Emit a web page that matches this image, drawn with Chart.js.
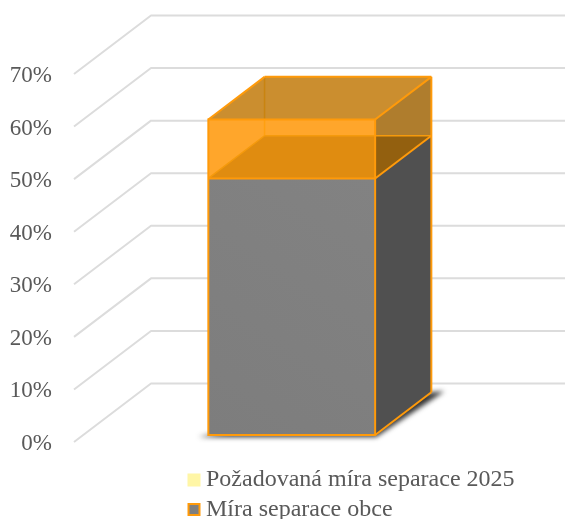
<!DOCTYPE html>
<html><head><meta charset="utf-8">
<style>html,body{margin:0;padding:0;background:#fff}canvas{display:block}</style>
<script src="https://cdn.jsdelivr.net/npm/chart.js@4"></script>
</head><body><canvas id="c" width="565" height="519"></canvas>
<script>
const categories = ["Obec"];
const targetName = "Požadovaná míra separace 2025";
const actualName = "Míra separace obce";
const targetValues = [60];
const actualValues = [48.8];
const yTicks = [0,10,20,30,40,50,60,70];

const DX = 77, DY = 58.5, D_FRONT = 0.12, D_BACK = 0.85;
const ORANGE = "#ff9a0a";
const LEGEND_PAD = 5.5;

function poly(ctx, pts, fill, stroke, lw){
  ctx.beginPath();
  pts.forEach((p,i)=> i?ctx.lineTo(p[0],p[1]):ctx.moveTo(p[0],p[1]));
  ctx.closePath();
  if(fill){ctx.fillStyle=fill;ctx.fill();}
  if(stroke){ctx.strokeStyle=stroke;ctx.lineWidth=lw||2;ctx.lineJoin="miter";ctx.stroke();}
}
function seg(ctx,a,b,c,lw){
  ctx.beginPath();ctx.moveTo(a[0],a[1]);ctx.lineTo(b[0],b[1]);
  ctx.strokeStyle=c;ctx.lineWidth=lw||2;ctx.stroke();
}
const plugin3d = {
  id:"bars3d",
  afterLayout(chart){
    const lg=chart.legend;
    const w=lg.right-lg.left,h=lg.bottom-lg.top;
    const nl=187.5-LEGEND_PAD, nt=468-LEGEND_PAD;
    lg.left=nl;lg.right=nl+w;lg.top=nt;lg.bottom=nt+h;
  },
  beforeDatasetsDraw(chart){
    const {ctx,scales:{y},chartArea:a}=chart;
    ctx.save();
    ctx.strokeStyle="#dcdcdc";ctx.lineWidth=2;ctx.lineJoin="round";
    yTicks.forEach(v=>{
      const py=y.getPixelForValue(v);
      ctx.beginPath();ctx.moveTo(a.left,py);ctx.lineTo(a.left+DX,py-DY);ctx.lineTo(chart.width,py-DY);ctx.stroke();
    });
    ctx.restore();
  },
  beforeDatasetDraw(){ return false; },
  afterDatasetsDraw(chart){
    const ctx=chart.ctx;
    const t=chart.getDatasetMeta(0).data[0], g=chart.getDatasetMeta(1).data[0];
    const L=g.x-g.width/2, R=g.x+g.width/2;
    const P=(x,py,d)=>[x+d*DX,py-d*DY];
    const base=g.base, yG=g.y, yT=t.y;
    const f=D_FRONT,b=D_BACK;
    ctx.save();
    ctx.save();
    ctx.filter="blur(2.5px)";
    const bf=P(L,base,f), rf=P(R,base,f), rb=P(R,base,b);
    poly(ctx,[[bf[0]-10,bf[1]+2],[rf[0]+1,rf[1]+2],[rb[0]+13,rb[1]-1],rb,bf],"rgba(30,30,30,.9)");
    ctx.restore();
    const gr=ctx.createLinearGradient(bf[0],bf[1],P(R,yG,f)[0],P(R,yG,f)[1]);
    gr.addColorStop(0,"#7d7d7d");gr.addColorStop(1,"#828282");
    poly(ctx,[P(L,base,f),P(R,base,f),P(R,yG,f),P(L,yG,f)],gr);
    poly(ctx,[P(R,base,f),P(R,base,b),P(R,yG,b),P(R,yG,f)],"#505050");
    poly(ctx,[P(L,yT,f),P(R,yT,f),P(R,yG,f),P(L,yG,f)],"#ffa62b");
    poly(ctx,[P(L,yG,f),P(R,yG,f),P(R,yG,b),P(L,yG,b)],"#e08c10");
    poly(ctx,[P(L,yT,f),P(R,yT,f),P(R,yT,b),P(L,yT,b)],"#cb8e2f");
    poly(ctx,[P(R,yT,f),P(R,yT,b),P(R,yG,b),P(R,yG,f)],"#af7d2d");
    const bk=P(R,yG,b);
    poly(ctx,[[P(R,yT,f)[0],bk[1]],bk,P(R,yG,f)],"#93600f");
    seg(ctx,P(L,yT,b),[P(L,yT,b)[0],P(L,yT,f)[1]],"#c98410",1.5);
    seg(ctx,[P(L,yT,b)[0],P(L,yT,f)[1]],P(L,yG,b),"#ffa010",1.5);
    seg(ctx,P(L,yG,b),P(R,yG,b),"#f59a0c",1.5);
    seg(ctx,P(L,yG,f),P(L,yG,b),"#f59a0c",1.5);
    poly(ctx,[P(L,base,f),P(R,base,f),P(R,yT,f),P(L,yT,f)],null,ORANGE,2);
    seg(ctx,P(L,yG,f),P(R,yG,f),ORANGE,2);
    seg(ctx,P(R,base,f),P(R,base,b),ORANGE,2);
    seg(ctx,P(R,base,b),P(R,yT,b),ORANGE,2);
    seg(ctx,P(R,yG,f),P(R,yG,b),ORANGE,2);
    seg(ctx,P(L,yT,f),P(L,yT,b),ORANGE,2);
    seg(ctx,P(R,yT,f),P(R,yT,b),ORANGE,2);
    seg(ctx,P(L,yT,b),P(R,yT,b),ORANGE,2);
    ctx.restore();
  },
  afterDraw(chart){
    const lg=chart.legend,ctx=chart.ctx;
    const left=lg.left+LEGEND_PAD;
    ctx.save();
    chart.data.datasets.forEach((ds,i)=>{
      const top=lg.top+LEGEND_PAD+i*(24+LEGEND_PAD)+(24-13)/2;
      ctx.clearRect(left-2,top-2,11,17);
      if(ds.borderWidth){
        ctx.fillStyle=ds.backgroundColor;ctx.fillRect(left+1,top+1,11,11);
        ctx.strokeStyle=ds.borderColor;ctx.lineWidth=ds.borderWidth;ctx.strokeRect(left+1,top+1,11,11);
      } else {
        ctx.fillStyle=ds.backgroundColor;ctx.fillRect(left,top,13,13);
      }
    });
    ctx.restore();
  }
};
new Chart(document.getElementById("c"),{
  type:"bar",
  plugins:[plugin3d],
  data:{labels:categories,datasets:[
    {label:targetName,data:targetValues,backgroundColor:"#fff6a6",borderWidth:0,categoryPercentage:1,barPercentage:0.4},
    {label:actualName,data:actualValues,backgroundColor:"#7f7f7f",borderColor:ORANGE,borderWidth:2,categoryPercentage:1,barPercentage:0.4}
  ]},
  options:{
    responsive:false,animation:false,devicePixelRatio:1,
    layout:{padding:{left:0,top:74,right:74,bottom:77}},
    plugins:{
      tooltip:{enabled:false},
      legend:{position:"chartArea",align:"start",
        labels:{boxWidth:6.5,boxHeight:13,padding:LEGEND_PAD,color:"#595959",font:{family:"'Liberation Serif'",size:24}}}
    },
    scales:{
      x:{stacked:true,display:false},
      y:{min:0,max:70,
        afterFit(s){s.width=74;},
        grid:{display:false,drawTicks:false},border:{display:false},
        ticks:{stepSize:10,padding:22,labelOffset:2,color:"#595959",font:{family:"'Liberation Serif'",size:23},callback:v=>v+"%"}}
    }
  }
});
</script></body></html>
